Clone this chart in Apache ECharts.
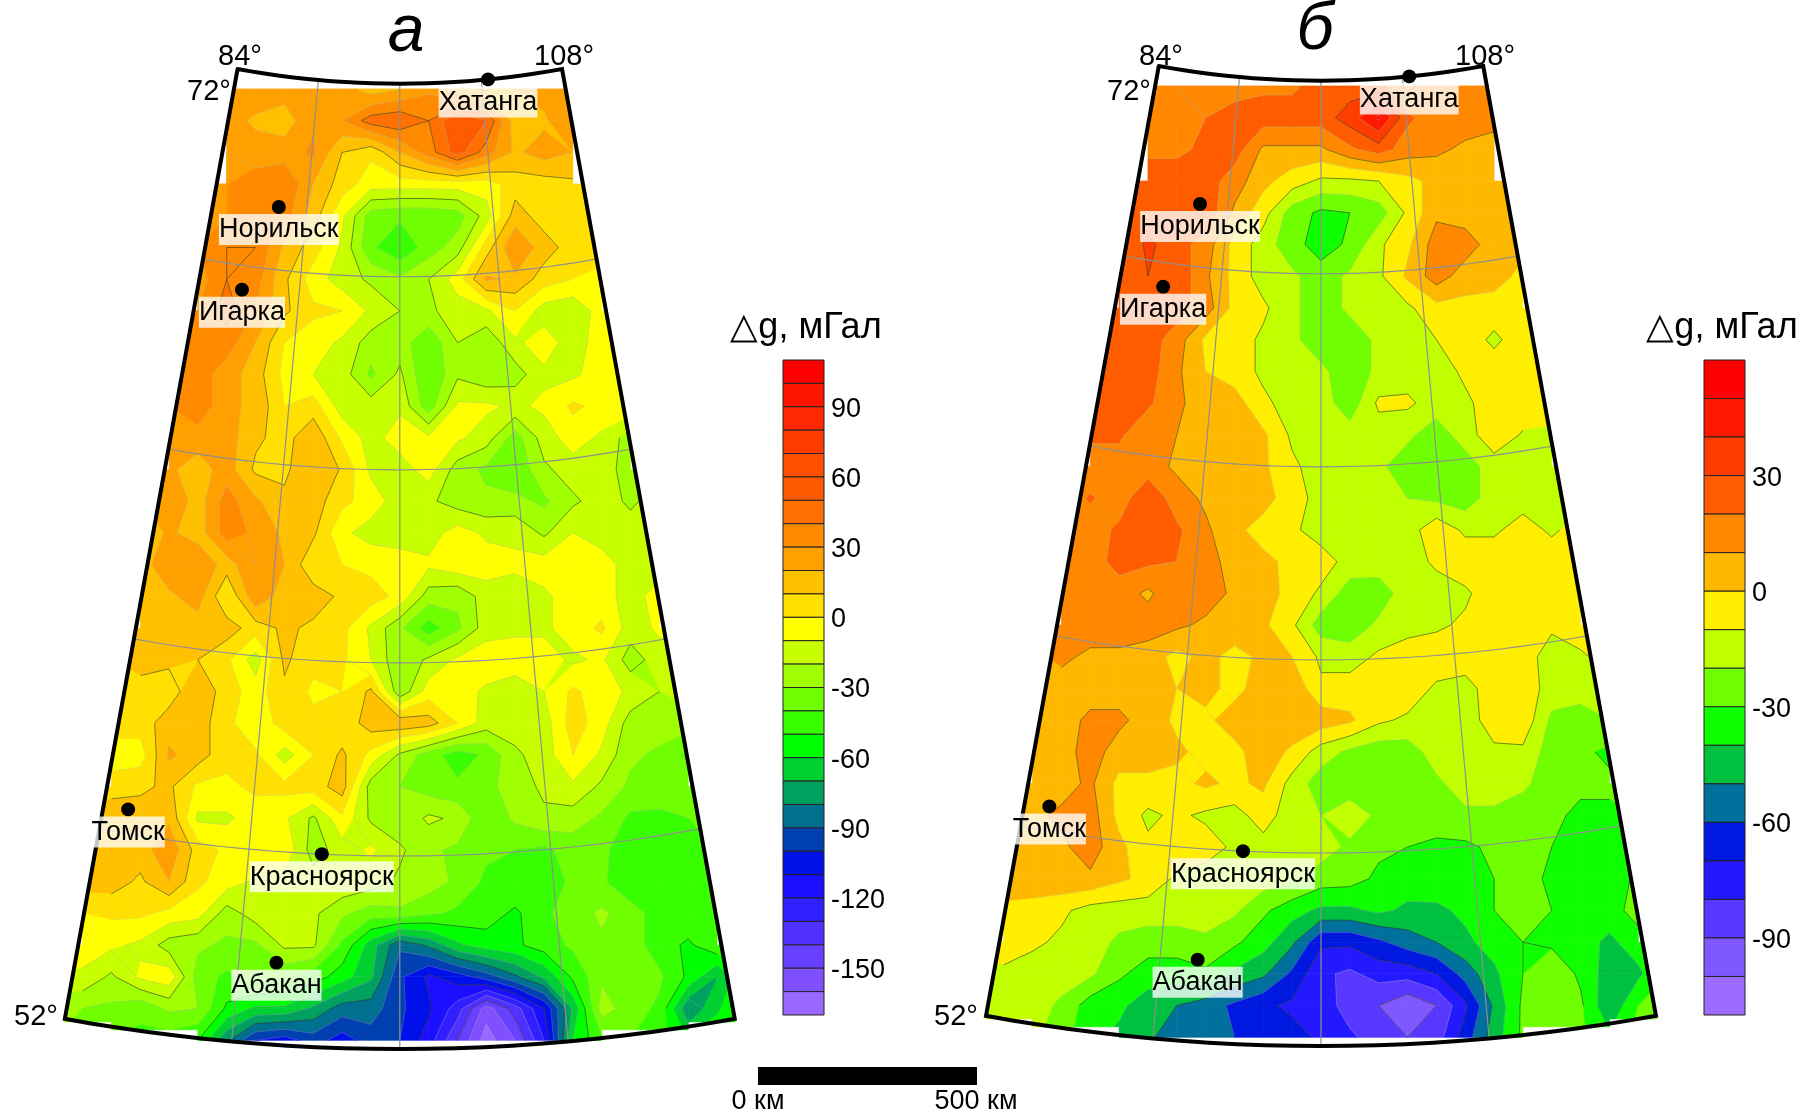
<!DOCTYPE html>
<html><head><meta charset="utf-8">
<style>html,body{margin:0;padding:0;background:#fff}#c{width:1809px;height:1114px}</style>
<script src="https://cdn.jsdelivr.net/npm/echarts@6/dist/echarts.min.js"></script>
</head><body><div id="c"></div>
<script>
const gridA=[
[25,28,25,25,25,15,20,28,15,8,20,25,25],
[25,18,15,28,30,45,48,40,60,50,15,18,32],
[30,25,25,32,10,2,20,35,55,35,18,25,20],
[30,30,35,40,20,5,-5,-5,-5,-5,-5,5,5,8,8],
[30,30,35,35,15,-8,-35,-38,-38,-35,-15,15,5,5,5],
[30,40,40,18,5,-12,-38,-48,-35,-25,5,30,15,5,3],
[25,40,35,12,-5,-15,-22,-28,-20,-5,22,18,5,0,-2],
[30,30,45,30,12,2,0,-12,-20,-22,-15,-12,0,-15,-18,-5,-5],
[40,40,35,20,0,-5,-12,-25,-25,-38,-20,-28,-12,-5,-15,-5,-2],
[30,35,25,15,-3,-10,-15,-32,-18,-40,-22,-28,-25,-12,-12,-5,0],
[30,38,22,18,0,5,-15,-15,-12,-36,-8,-8,-12,-8,2,-3,-3],
[30,25,25,12,6,18,-2,-14,-5,-8,-8,-15,-35,-15,-5,-12,-25],
[22,22,15,25,8,8,18,9,-12,-15,-5,-25,-32,-38,-22,-15,-15,-25,-25],
[20,30,15,35,22,12,15,3,-5,-15,-18,-25,-28,-27,-32,-22,-15,-22,-15],
[12,22,15,35,28,18,12,-8,-14,-15,-15,-5,-12,-12,-22,-10,-15,-15,-12],
[15,28,30,15,30,20,2,0,-3,-5,-8,-3,-5,-8,-5,-8,-5,-15,-15],
[20,18,25,0,28,15,15,8,5,-3,-25,-28,-15,-15,-12,-5,-5,-15,-5],
[12,12,20,15,15,5,12,8,3,-12,-28,-45,-32,-15,-12,-12,-5,2,-15,-8,-8],
[10,12,12,10,2,-15,12,3,2,-10,-28,-18,-8,-3,-5,-5,-12,-8,-25,-15,-12],
[8,8,5,18,5,-5,8,-2,0,12,-28,-5,-5,-12,-15,-10,2,-5,-12,-20,-15],
[5,5,15,15,3,-8,5,3,3,15,18,15,0,-15,-15,-15,5,-5,-25,-25,-25],
[-5,-5,22,15,3,2,-15,0,12,-3,-22,-35,-45,-38,-22,-15,0,-12,-28,-32,-42],
[5,5,8,12,-2,-2,2,3,5,15,-25,-30,-35,-38,-33,-25,-18,-12,-22,-32,-35,-35,-35],
[18,18,15,18,-12,-12,-5,-8,-22,-2,-22,-28,-18,-22,-38,-28,-22,-25,-32,-42,-42,-40,-35],
[18,18,15,28,5,-2,0,-2,-25,-15,-8,-18,-28,-32,-38,-40,-42,-36,-38,-45,-42,-42,-40],
[15,15,8,20,2,-5,-12,-15,-15,-12,-15,-22,-25,-32,-42,-42,-45,-38,-38,-48,-45,-48,-42],
[0,2,2,-3,-6,-25,-15,-18,-18,-28,-35,-32,-38,-42,-45,-52,-42,-35,-28,-35,-45,-42,-42],
[-5,-5,-8,-12,-25,-28,-32,-32,-18,-18,-42,-65,-88,-78,-62,-55,-52,-45,-38,-32,-35,-45,-52,-42,-42],
[-10,-12,-22,-8,-3,-35,-42,-35,-38,-45,-55,-68,-98,-112,-105,-95,-82,-68,-48,-32,-32,-38,-52,-70,-50],
[-28,-30,-32,-38,-28,-30,-52,-62,-62,-72,-85,-85,-98,-108,-125,-155,-135,-110,-68,-25,-35,-42,-78,-62,-45],
[-30,-38,-40,-42,-45,-50,-78,-100,-105,-95,-105,-95,-100,-115,-140,-165,-150,-120,-60,-42,-40,-45,-60,-50,-40]
];
const gridB=[
[15,20,15,15,18,18,25,25,25,8,14,15,15],
[15,12,20,25,25,25,25,35,52,22,15,15,14],
[18,18,22,25,8,8,8,18,25,15,12,8,5],
[25,25,25,25,15,3,-5,-12,-12,-10,-3,3,4,5,5],
[20,25,25,28,8,-6,-25,-32,-30,-25,-8,8,5,4,4],
[20,32,25,15,-3,-15,-26,-35,-28,-12,-2,15,15,5,3],
[20,30,28,12,-3,-15,-18,-25,-18,-12,2,15,5,5,-3],
[25,25,28,25,15,-3,-8,-18,-25,-18,-15,-12,-3,-3,-5,-5,-5],
[25,25,25,15,-2,-5,-12,-18,-25,-25,-18,-15,-10,-5,-12,-5,-5],
[25,25,25,12,0,-5,-12,-15,-18,-25,-18,-15,-15,-8,-5,-5,-5],
[25,25,22,12,5,5,-8,-14,-15,-26,-8,-8,-15,-12,-5,-4,-5],
[22,22,12,10,8,5,2,-12,-15,-15,-15,-18,-25,-15,-3,-11,-12],
[15,15,15,15,8,5,5,2,-8,-15,-15,-18,-25,-28,-25,-15,-15,-15,-15],
[15,21,15,28,15,8,5,3,-4,-15,-15,-15,-20,-22,-25,-15,-15,-15,-12],
[15,15,22,28,22,12,2,-3,-8,-15,-15,-15,-15,-3,-12,-12,-5,-12,-5],
[15,15,24,22,20,15,5,2,-2,-5,-14,-15,-15,-8,-3,-3,-3,-3,-3],
[15,15,15,8,18,15,8,4,-3,-12,-25,-25,-15,-15,-12,-3,-3,-3,-3],
[15,15,15,15,15,12,8,6,2,-8,-25,-26,-18,-15,-12,-8,-3,-5,-8,-3,-3],
[8,12,8,8,5,-3,3,-3,2,0,-12,-15,-8,-3,-3,-3,-3,-5,-15,-12,-5],
[6,6,6,6,6,0,3,-3,5,8,-8,-5,-3,-3,-12,-15,-3,-3,-15,-15,-15],
[6,6,12,12,6,-2,-2,5,6,8,6,2,-8,-12,-15,-15,-5,-3,-22,-25,-20],
[6,6,14,6,6,2,-3,-3,6,-2,-15,-22,-26,-25,-15,-15,-12,-12,-25,-28,-32],
[6,6,6,12,-3,-3,-3,2,-2,2,-14,-25,-26,-25,-25,-22,-15,-15,-18,-25,-28,-28,-28],
[8,8,12,15,-3,-12,-8,-12,-14,-5,-16,-20,-14,-22,-25,-25,-22,-22,-25,-28,-32,-32,-30],
[5,5,8,15,3,-8,-3,-5,-12,-14,-15,-15,-22,-28,-30,-32,-32,-28,-26,-30,-35,-35,-30],
[8,5,8,8,2,-3,-12,-15,-15,-15,-18,-25,-26,-32,-35,-34,-34,-30,-26,-32,-36,-35,-28],
[-3,-3,-8,-14,-15,-15,-15,-15,-18,-28,-36,-42,-42,-38,-42,-42,-38,-30,-26,-30,-36,-35,-25],
[-5,-5,-8,-12,-15,-22,-25,-25,-22,-28,-36,-48,-68,-68,-62,-55,-50,-42,-36,-30,-32,-36,-42,-35,-35],
[-12,-12,-15,-15,-18,-28,-35,-35,-32,-42,-48,-62,-78,-82,-76,-76,-70,-56,-42,-30,-22,-32,-45,-42,-30],
[-15,-15,-15,-22,-35,-38,-45,-50,-55,-62,-68,-72,-74,-85,-90,-98,-90,-72,-48,-28,-25,-28,-48,-30,-25],
[-18,-18,-18,-25,-38,-42,-48,-56,-56,-60,-62,-66,-72,-78,-85,-90,-85,-65,-45,-28,-25,-28,-38,-25,-20]
];
const coloursA=['#ff0000','#ff1400','#ff2800','#ff3c00','#ff5000','#ff5a00','#ff7000','#ff8a00','#ffa000','#ffc000','#ffe000','#ffff00','#c8ff00','#a0ff00','#70ff00','#38ff00','#00ff00','#00d030','#00a060','#007090','#0040b0','#0010e8','#1a10ff','#3020ff','#5030ff','#6840ff','#8050ff','#9868ff'];
const coloursB=['#ff0000','#ff1800','#ff3c00','#ff5c00','#ff8800','#ffb800','#ffee00','#c0ff00','#70ff00','#10ff00','#00c040','#00709c','#0018e0','#2418ff','#5838ff','#8058ff','#9c6cff'];
const topA=110, topB=60, bandStep=10;
const ticksA=[90,60,30,0,-30,-60,-90,-120,-150];
const ticksB=[30,0,-30,-60,-90];
const darkLevelsA=[70,40,10,-20,-50,-80,-110,-140];
const darkLevelsB=[30,10,-10,-30,-50,-70,-90];
const cityNames=['Хатанга','Норильск','Игарка','Томск','Красноярск','Абакан'];
const cityLon=[102.5,88.2,86.6,85.0,92.9,91.4];
const cityLat=[72.0,69.3,67.5,56.5,56.0,53.7];
const parallels=[68,64,60,56];
const meridians=[90,102,96];

const PX=0.438, R72=2070, KM_DEG=110.2, CONE=0.859, LON0=96;
const XSTEP=65.85, YSTEP=72.4, YSTART=12;
const THETA=12*CONE*Math.PI/180;
function project(lon,lat){const r=R72+(72-lat)*KM_DEG,t=(lon-LON0)*CONE*Math.PI/180;return [r*Math.sin(t),r*Math.cos(t)-R72];}
function clip(poly,f){const out=[];const n=poly.length;for(let i=0;i<n;i++){const a=poly[i],b=poly[(i+1)%n],fa=f(a),fb=f(b);if(fa>=0)out.push(a);if((fa>=0)!==(fb>=0)){const t=fa/(fa-fb);out.push([a[0]+t*(b[0]-a[0]),a[1]+t*(b[1]-a[1]),a[2]+t*(b[2]-a[2])]);}}return out;}
const inL=p=>p[0]*Math.cos(THETA)+(p[1]+R72)*Math.sin(THETA);
const inR=p=>-p[0]*Math.cos(THETA)+(p[1]+R72)*Math.sin(THETA);
function cells(grid){const out=[];
 const val=(i,j)=>{const row=grid[i];if(!row)return null;const L=(row.length-1)/2;return Math.abs(j)<=L?row[j+L]:null;};
 for(let i=0;i<grid.length-1;i++)for(let j=-12;j<12;j++){const a=val(i,j),b=val(i,j+1),c=val(i+1,j+1),d=val(i+1,j);
  if(a===null||b===null||c===null||d===null)continue;out.push([j*XSTEP,YSTART+i*YSTEP,a,b,c,d]);}
 return out;}
function corners(api){const x=api.value(0),y=api.value(1);return [[x,y,api.value(2)],[x+XSTEP,y,api.value(3)],[x+XSTEP,y+YSTEP,api.value(4)],[x,y+YSTEP,api.value(5)]];}
function bottomLimit(xc){const a=Math.abs(xc);return a<=430?1e9:(a<=645?2160:2142);}
function fillSeries(grid,colours,top,idx){return {type:'custom',xAxisIndex:idx,yAxisIndex:idx,z:1,silent:true,animation:false,clip:false,encode:{x:0,y:1},data:cells(grid),
 renderItem(p,api){const q=corners(api),vs=q.map(c=>c[2]),mn=Math.min(...vs),mx=Math.max(...vs),xc=q[0][0]+XSTEP/2,lim=bottomLimit(xc);const ch=[];
  colours.forEach((col,k)=>{const hi=top-k*bandStep,lo=hi-bandStep;if(mx<lo||mn>hi)return;
   let g=clip(q,c=>c[2]-lo);if(g.length<3)return;g=clip(g,c=>hi-c[2]);if(g.length<3)return;g=clip(g,inL);if(g.length<3)return;g=clip(g,inR);if(g.length<3)return;g=clip(g,c=>lim-c[1]);if(g.length<3)return;
   ch.push({type:'polygon',shape:{points:g.map(c=>api.coord([c[0],c[1]]))},style:{fill:col,stroke:col,lineWidth:0.7}});});
  return {type:'group',children:ch};}};}
function lineSeries(grid,colours,top,dark,idx){return {type:'custom',xAxisIndex:idx,yAxisIndex:idx,z:2,silent:true,animation:false,clip:false,encode:{x:0,y:1},data:cells(grid),
 renderItem(p,api){const q=corners(api),xc=q[0][0]+XSTEP/2,lim=bottomLimit(xc);const ch=[];
  for(let k=1;k<colours.length;k++){const L=top-k*bandStep;const pts=[];
   for(let e=0;e<4;e++){const a=q[e],b=q[(e+1)%4];if((a[2]<L)!==(b[2]<L)){const t=(L-a[2])/(b[2]-a[2]);pts.push([a[0]+t*(b[0]-a[0]),a[1]+t*(b[1]-a[1]),L]);}}
   const isDark=dark.includes(L);
   for(let s=0;s+1<pts.length;s+=2){const u=pts[s],v=pts[s+1];if(inL(u)<0||inL(v)<0||inR(u)<0||inR(v)<0||u[1]>lim||v[1]>lim)continue;
    ch.push({type:'polyline',shape:{points:[api.coord([u[0],u[1]]),api.coord([v[0],v[1]])]},style:{fill:null,stroke:isDark?'rgba(50,60,40,0.6)':'rgba(170,170,170,0.45)',lineWidth:isDark?1:0.7}});}
  }
  return {type:'group',children:ch};}};}
function polyLine(pts,idx,color,w,z){return {type:'line',xAxisIndex:idx,yAxisIndex:idx,data:pts,showSymbol:false,symbol:'none',silent:true,animation:false,clip:false,z:z,lineStyle:{color:color,width:w,cap:'round',join:'miter'}};}
function merid(lon){const a=[];for(let l=72;l>=52;l-=2)a.push(project(lon,l));return a;}
function paral(lat){const a=[];for(let l=84;l<=108;l+=1)a.push(project(l,lat));return a;}
function mapSeries(grid,colours,top,dark,idx){
 const s=[fillSeries(grid,colours,top,idx),lineSeries(grid,colours,top,dark,idx)];
 meridians.forEach(m=>s.push(polyLine(merid(m),idx,'#8f8f8f',1.2,3)));
 parallels.forEach(m=>s.push(polyLine(paral(m),idx,'#8f8f8f',1.2,3)));
 const frame=[...paral(72),...merid(108),...paral(52).reverse(),...merid(84).reverse()];
 s.push(polyLine(frame,idx,'#000',4,4));
 s.push({type:'scatter',xAxisIndex:idx,yAxisIndex:idx,z:6,silent:true,animation:false,clip:false,symbol:'circle',symbolSize:14,itemStyle:{color:'#000',opacity:1},
  data:cityNames.map((n,i)=>({name:n,value:project(cityLon[i],cityLat[i])})),
  label:{show:true,position:'bottom',distance:0,formatter:'{b}',fontFamily:'Liberation Sans',fontSize:27,color:'#000',backgroundColor:'rgba(255,255,255,0.78)',padding:[2,0,1,0],lineHeight:28}});
 return s;}
function legendSeries(colours,top,idx){return {type:'custom',xAxisIndex:idx,yAxisIndex:idx,silent:true,animation:false,clip:false,encode:{y:[1,2]},
 data:colours.map((c,k)=>[k,top-k*bandStep,top-(k+1)*bandStep]),
 renderItem(p,api){const k=api.value(0),a=api.coord([0,api.value(1)]),b=api.coord([1,api.value(2)]);
  return {type:'rect',shape:{x:a[0],y:a[1],width:b[0]-a[0],height:b[1]-a[1]},style:{fill:colours[k],stroke:'#222',lineWidth:1}};}};}
const hidden=(o)=>Object.assign({show:false,type:'value'},o);
const OAX=399.8,OAY=83.7,OBX=1321,OBY=80.7,SPLIT=905;
const legendAxis=(mn,mx,ticks)=>({type:'value',position:'right',min:mn,max:mx,axisLine:{show:false},axisTick:{show:false},splitLine:{show:false},
 axisLabel:{show:true,color:'#000',fontFamily:'Liberation Sans',fontSize:27,margin:7,verticalAlign:'top',lineHeight:5,customValues:ticks,formatter:v=>String(v)}});
const txt=(x,y,t,size,extra)=>({type:'text',x:x,y:y,z:10,silent:true,style:Object.assign({text:t,fontFamily:'Liberation Sans',fontSize:size,fill:'#000',align:'center',verticalAlign:'middle'},extra||{})});
const option={animation:false,backgroundColor:'#fff',
 grid:[{left:0,top:0,width:SPLIT,height:1114},{left:SPLIT,top:0,width:1809-SPLIT,height:1114},
  {left:783,top:360,width:41,height:655},{left:1704,top:360,width:41,height:655}],
 xAxis:[hidden({gridIndex:0,min:-OAX/PX,max:(SPLIT-OAX)/PX}),hidden({gridIndex:1,min:(SPLIT-OBX)/PX,max:(1809-OBX)/PX}),
  hidden({gridIndex:2,min:0,max:1}),hidden({gridIndex:3,min:0,max:1})],
 yAxis:[hidden({gridIndex:0,inverse:true,min:-OAY/PX,max:(1114-OAY)/PX}),hidden({gridIndex:1,inverse:true,min:-OBY/PX,max:(1114-OBY)/PX}),
  Object.assign(legendAxis(topA-coloursA.length*bandStep,topA,ticksA),{gridIndex:2}),Object.assign(legendAxis(topB-coloursB.length*bandStep,topB,ticksB),{gridIndex:3})],
 series:[...mapSeries(gridA,coloursA,topA,darkLevelsA,0),...mapSeries(gridB,coloursB,topB,darkLevelsB,1),legendSeries(coloursA,topA,2),legendSeries(coloursB,topB,3)],
 graphic:[
  txt(406,33,'а',66,{fontStyle:'italic'}),txt(1315,31,'б',66,{fontStyle:'italic'}),
  txt(240,57,'84°',29),txt(564,57,'108°',29),txt(209,92,'72°',29),txt(36,1017,'52°',29),
  txt(1161,57,'84°',29),txt(1485,57,'108°',29),txt(1129,92,'72°',29),txt(956,1017,'52°',29),
  txt(806,328,'△g, мГал',36),txt(1722,328,'△g, мГал',36),
  {type:'rect',z:10,silent:true,shape:{x:758,y:1067,width:219,height:18},style:{fill:'#000'}},
  txt(758,1102,'0 км',27),txt(976,1102,'500 км',27)
 ]};
const chart=echarts.init(document.getElementById('c'),null,{renderer:'canvas'});
chart.setOption(option);
</script></body></html>
